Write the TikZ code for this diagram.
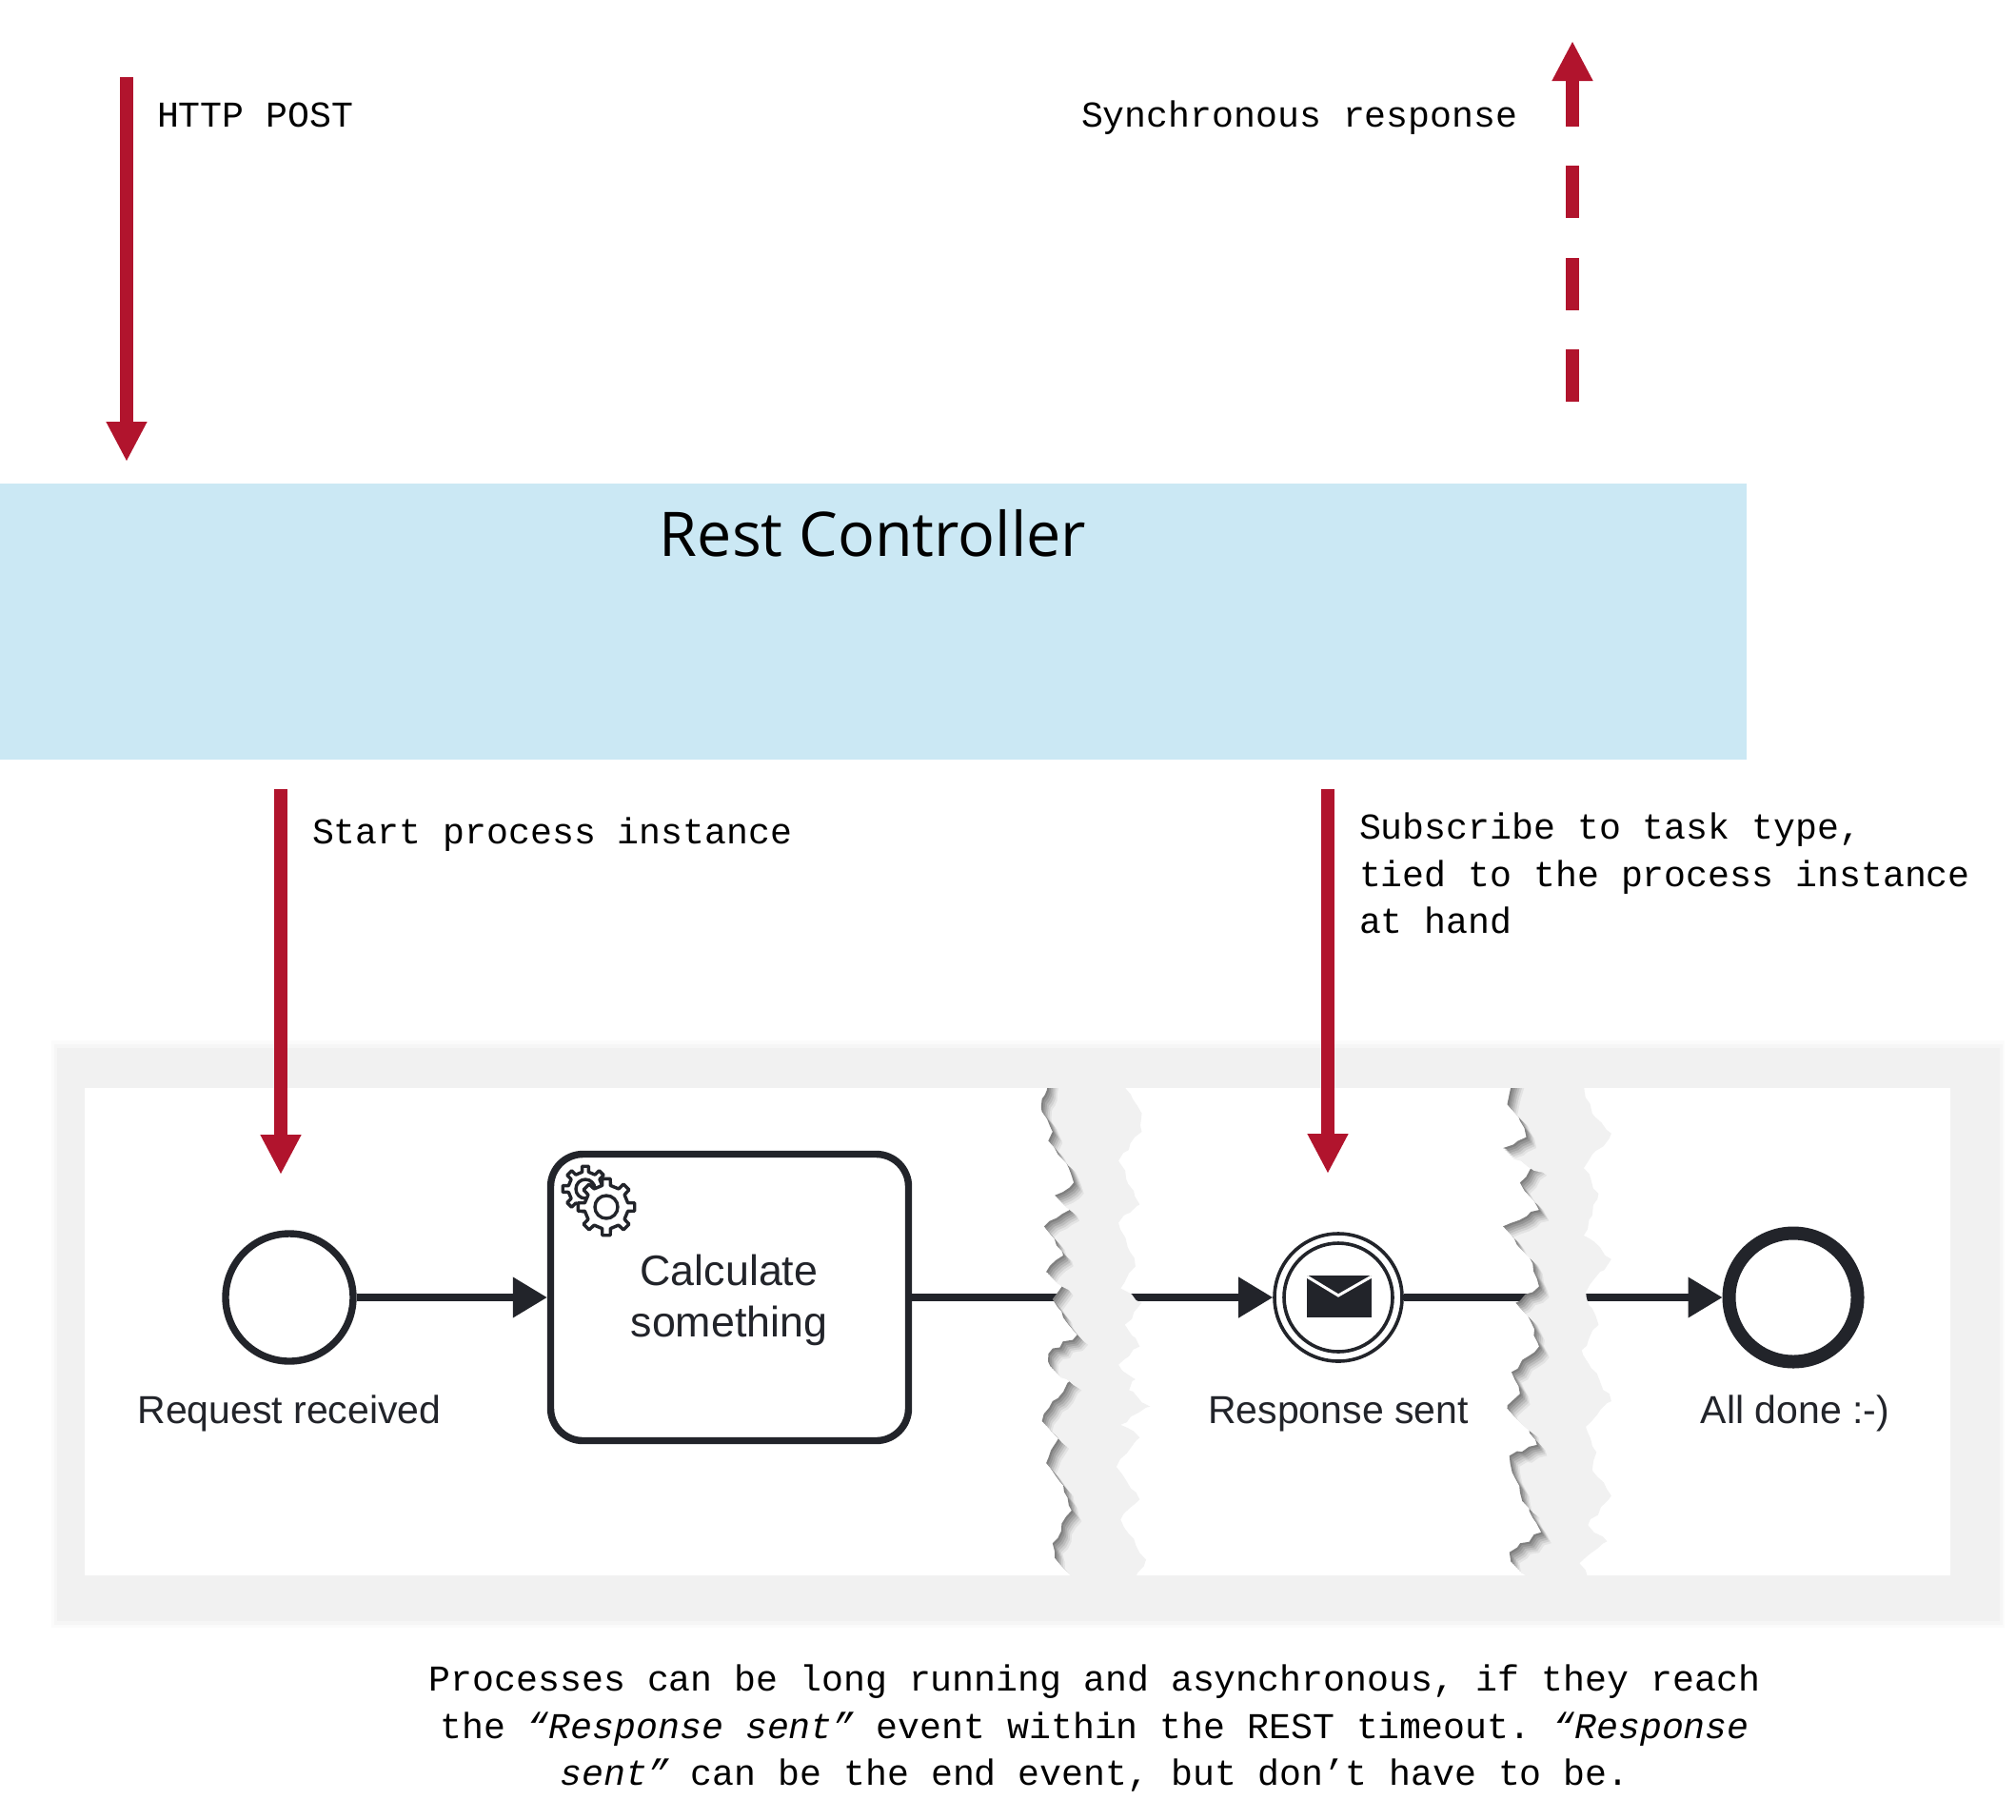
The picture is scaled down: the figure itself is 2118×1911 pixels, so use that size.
\documentclass[tikz,border=0pt]{standalone}
\usepackage{fontspec}
\setmainfont{Liberation Sans}
\setmonofont{Liberation Mono}
\newfontfamily\titlefont{Open Sans}
\usetikzlibrary{arrows.meta,decorations.pathmorphing,shapes.geometric}
\definecolor{crimson}{HTML}{B1142D}
\definecolor{ink}{HTML}{22242A}
\definecolor{paneblue}{HTML}{CBE8F4}
\definecolor{framegrey}{HTML}{F1F1F1}
\tikzset{
  redarrow/.style={draw=crimson,line width=7pt,-{Triangle[length=21pt,width=20pt,color=crimson]}},
  flow/.style={draw=ink,line width=3.7pt,-{Triangle[length=18pt,width=20.5pt,color=ink]}},
  plainflow/.style={draw=ink,line width=3.7pt},
  mono/.style={font=\ttfamily\fontsize{19.1}{24.7}\selectfont,text=black,inner sep=0pt,outer sep=0pt},
  bpmn/.style={font=\fontsize{20.5}{24}\selectfont,text=ink,inner sep=0pt,outer sep=0pt},
  eventc/.style={circle,draw=ink,fill=white,inner sep=0pt},
  gearline/.style={draw=ink,line width=1.7pt,fill=white,line join=round},
}
% seed, left edge (top to bottom), x of the strip's middle, right edge (bottom to top)
\newcommand{\tornedge}[4]{%
  \foreach \dx/\dy/\shade in {0/0/50,4/5/42,8/10/34,12/15/26,16/20/18,20/25/11}{%
    \pgfmathsetseed{#1}%
    \fill[black!\shade,shift={(\dx,\dy)}] decorate[decoration={random steps,segment length=4pt,amplitude=1.1pt}]{#2 -- (#3,1440) -- (#3,-20) -- cycle};
  }%
  \pgfmathsetseed{#1}%
  \fill[framegrey,shift={(24,30)}] decorate[decoration={random steps,segment length=4pt,amplitude=1.1pt}]{#2 -- (#3,1440) -- (#3,-20) -- cycle};
  \pgfmathsetseed{#1}%
  \fill[framegrey] decorate[decoration={random steps,segment length=4pt,amplitude=1.1pt}]{(#3,50) -- (#3,1440) -- #4 -- cycle};
}
\newcommand{\geartooth}[5]{% cx cy Rout Rbody Rhole
  \begin{scope}[shift={(#1,#2)}]
    \draw[gearline] (-11:#4)
      \foreach \a in {0,45,...,315}{
        -- (\a-11:#4) -- (\a-8:#3) -- (\a+8:#3) -- (\a+11:#4) -- (\a+34:#4)
      } -- cycle;
    \draw[gearline] (0,0) circle (#5);
  \end{scope}
}
\begin{document}
\begin{tikzpicture}[x=0.5pt,y=-0.5pt]
\useasboundingbox (0,0) rectangle (2118,1911);
\fill[white] (0,0) rectangle (2118,1911);

% Rest controller
\node[fill=paneblue,minimum width=917.5pt,minimum height=145pt,inner sep=0pt,outer sep=0pt,anchor=north west] (rest) at (0,508) {};
\node[font=\titlefont\fontsize{32.3}{36}\selectfont,text=black,inner sep=0pt,anchor=base] (resttitle) at (917,584) {Rest Controller};

% Red arrows, top
\coordinate (postfrom) at (133,81);
\coordinate (postto) at (133,485);
\draw[redarrow] (postfrom) -- (postto);
\node[mono,anchor=base west] (posttext) at (165,133) {HTTP POST};

\coordinate (syncfrom) at (1652,422);
\coordinate (syncto) at (1652,43);
\draw[redarrow,dash pattern=on 27.5pt off 20.7pt] (syncfrom) -- (syncto);
\node[mono,anchor=base west] (synctext) at (1136,133) {Synchronous response};

% Process frame
\fill[framegrey!30] (54,1093) rectangle (2106,1710);
\fill[framegrey!65] (57,1097) rectangle (2104,1707);
\fill[framegrey] (60,1101) rectangle (2101,1703);
\fill[white] (89,1143) rectangle (2049,1655);

% Events and task
\node[eventc,line width=3.7pt,minimum size=67pt] (start) at (304,1363) {};
\node[draw=ink,fill=white,line width=3.7pt,rounded corners=17pt,minimum width=188pt,minimum height=150.5pt,inner sep=0pt] (task) at (766.5,1363) {};
\node[eventc,line width=1.8pt,minimum size=67pt] (msg) at (1406,1363) {};
\node[eventc,line width=1.8pt,minimum size=57pt] (msginner) at (1406,1363) {};
\node[eventc,line width=7pt,minimum size=67.5pt] (endev) at (1884,1363) {};

\coordinate (tear1a) at (1125,1363);
\coordinate (tear1b) at (1165,1363);
\coordinate (tear2a) at (1625,1363);
\coordinate (tear2b) at (1650,1363);

\draw[flow] (start) -- (task);
\draw[plainflow] (task) -- (tear1a);
\draw[flow] (tear1b) -- (msg);
\draw[plainflow] (msg) -- (tear2a);
\draw[flow] (tear2b) -- (endev);

% Torn strips
\begin{scope}
  \clip (89,1143) rectangle (2049,1655);
  \begin{scope}[shift={(1050,1120)},x=0.2232pt,y=-0.1913pt]
    \tornedge{7}{(130,-20) -- (100,90) -- (100,125) -- (125,180) -- (115,205) -- (155,260) -- (175,320) -- (130,355) -- (165,395) -- (105,440) -- (150,520) -- (110,565) -- (150,600) -- (125,640) -- (150,690) -- (185,735) -- (115,790) -- (120,825) -- (170,860) -- (125,920) -- (100,975) -- (140,1020) -- (110,1090) -- (150,1150) -- (170,1220) -- (125,1310) -- (130,1350) -- (190,1405)}{240}{(320,1405) -- (345,1355) -- (285,1245) -- (330,1190) -- (275,1100) -- (330,1020) -- (285,985) -- (355,935) -- (305,890) -- (320,860) -- (280,820) -- (330,770) -- (295,710) -- (335,650) -- (285,610) -- (320,550) -- (280,430) -- (330,380) -- (280,260) -- (335,180) -- (335,130) -- (290,50)}
    \tornedge{11}{(1225,-20) -- (1195,105) -- (1225,150) -- (1240,195) -- (1185,225) -- (1265,270) -- (1225,320) -- (1270,395) -- (1185,440) -- (1245,520) -- (1270,605) -- (1215,650) -- (1250,700) -- (1270,770) -- (1205,840) -- (1225,900) -- (1195,940) -- (1245,990) -- (1265,1040) -- (1200,1070) -- (1225,1170) -- (1255,1240) -- (1275,1280) -- (1200,1335) -- (1210,1365) -- (1280,1405)}{1330}{(1385,1405) -- (1365,1365) -- (1430,1305) -- (1385,1260) -- (1440,1180) -- (1395,1110) -- (1405,1060) -- (1380,990) -- (1440,920) -- (1370,780) -- (1410,710) -- (1380,620) -- (1440,530) -- (1375,465) -- (1410,350) -- (1375,280) -- (1440,185) -- (1395,130) -- (1375,50)}
  \end{scope}
\end{scope}

% Gears
\geartooth{615}{1249}{24}{18}{10}
\geartooth{637}{1268}{30}{23}{12}

% Envelope
\fill[ink] (1373,1340) rectangle (1441,1384);
\draw[white,line width=1.5pt] (1373,1341) -- (1406,1361) -- (1441,1341);

% Red arrows, middle
\coordinate (startfrom) at (295,829);
\coordinate (startto) at (295,1234);
\draw[redarrow] (startfrom) -- (startto);
\node[mono,anchor=base west] (starttext) at (328,886) {Start process instance};

\coordinate (subfrom) at (1395,829);
\coordinate (subto) at (1395,1233);
\draw[redarrow] (subfrom) -- (subto);
\node[mono,align=left,anchor=north west] (subtext) at (1428,854) {Subscribe to task type,\\tied to the process instance\\at hand};

% BPMN labels
\node[bpmn,anchor=base] (lblstart) at (304,1495) {Request received};
\node[bpmn,anchor=base] (lblmsg) at (1406,1495) {Response sent};
\node[bpmn,anchor=base] (lblend) at (1886,1495) {All done :-)};
\node[inner sep=0pt,outer sep=0pt,align=center,text=ink,font=\fontsize{22.4}{27.2}\selectfont,anchor=center] (tasktext) at (766,1366) {Calculate\\something};

% Bottom text
\node[mono,align=center,anchor=north] (note) at (1150,1749) {Processes can be long running and asynchronous, if they reach\\the \textit{“Response sent”} event within the REST timeout. \textit{“Response}\\\textit{sent”} can be the end event, but don’t have to be.};
\end{tikzpicture}
\end{document}
